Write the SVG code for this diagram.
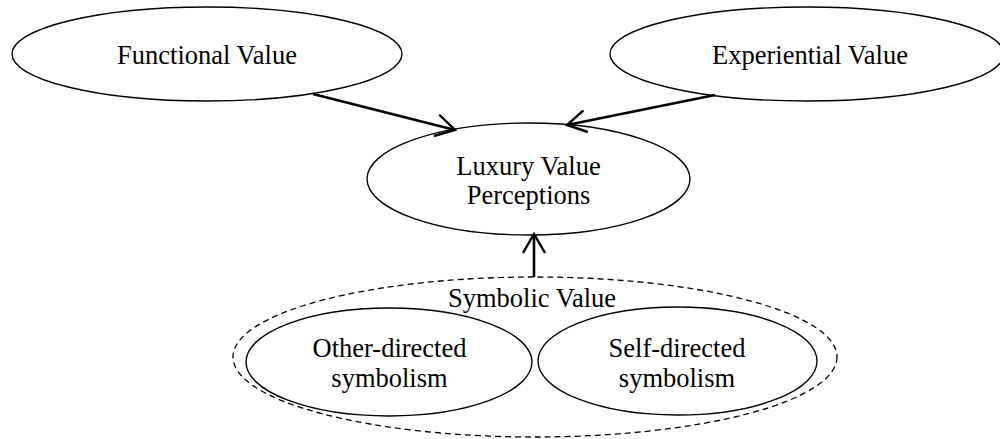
<svg xmlns="http://www.w3.org/2000/svg" width="1000" height="439" viewBox="0 0 1000 439">
<style>
.node{fill:#fff;stroke:#000;stroke-width:1.4}
.dash{fill:none;stroke:#000;stroke-width:1.3;stroke-dasharray:6 4}
.lbl{font-family:"Liberation Serif","Times New Roman",serif;font-size:26.5px;fill:#000;text-anchor:middle}
.conn{stroke:#000;stroke-width:2.6;fill:none}
</style>
<defs>
<marker id="arr" markerUnits="userSpaceOnUse" viewBox="0 0 22 24" refX="20" refY="12" markerWidth="22" markerHeight="24" orient="auto">
<path d="M1,1 L20,12 L1,23" fill="none" stroke="#000" stroke-width="2.4"/>
</marker>
</defs>
<rect width="1000" height="439" fill="#fff"/>
<g id="symbolic-value">
<ellipse class="dash" cx="535" cy="357" rx="302" ry="80"/>
<text class="lbl" x="532" y="307">Symbolic Value</text>
</g>
<g id="functional-value">
<ellipse class="node" cx="207" cy="54" rx="195" ry="47"/>
<text class="lbl" x="207" y="64">Functional Value</text>
</g>
<g id="experiential-value">
<ellipse class="node" cx="807" cy="54" rx="197" ry="47"/>
<text class="lbl" x="810" y="64">Experiential Value</text>
</g>
<g id="luxury-value-perceptions">
<ellipse class="node" cx="528.5" cy="179" rx="161.5" ry="56"/>
<text class="lbl" x="528.5" y="175">Luxury Value</text>
<text class="lbl" x="528.5" y="204">Perceptions</text>
</g>
<g id="other-directed">
<ellipse class="node" cx="389" cy="362" rx="143" ry="54"/>
<text class="lbl" x="389.5" y="357">Other-directed</text>
<text class="lbl" x="389.5" y="387">symbolism</text>
</g>
<g id="self-directed">
<ellipse class="node" cx="677.5" cy="361" rx="139.5" ry="54"/>
<text class="lbl" x="677" y="357">Self-directed</text>
<text class="lbl" x="677" y="387">symbolism</text>
</g>
<g id="connectors">
<line class="conn" x1="313" y1="94" x2="455" y2="130" marker-end="url(#arr)"/>
<line class="conn" x1="715" y1="95" x2="567" y2="125" marker-end="url(#arr)"/>
<line class="conn" x1="534" y1="277" x2="534" y2="234" marker-end="url(#arr)"/>
</g>
</svg>
